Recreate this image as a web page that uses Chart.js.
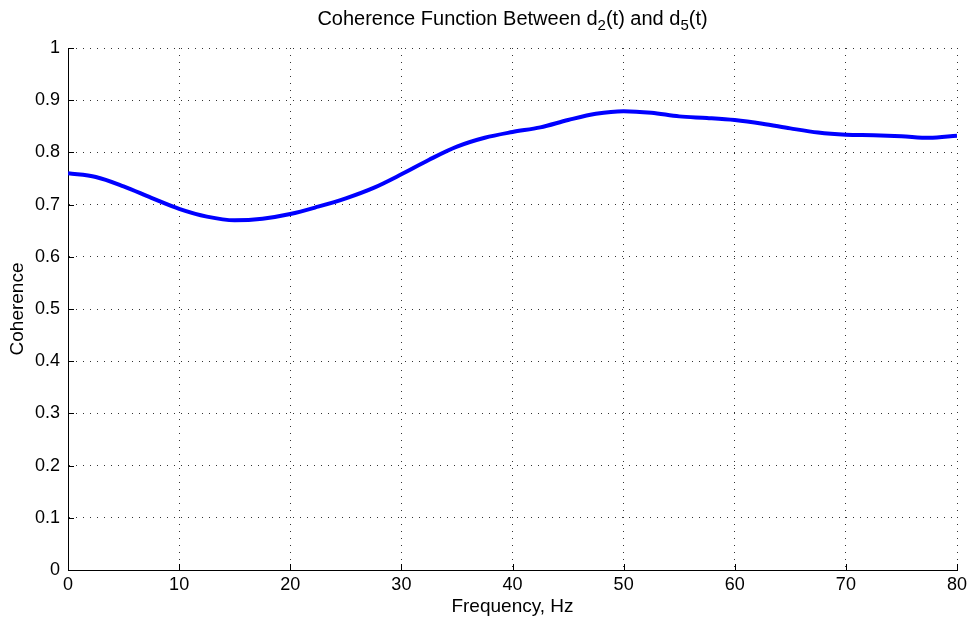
<!DOCTYPE html>
<html>
<head>
<meta charset="utf-8">
<script src="https://cdn.jsdelivr.net/npm/chart.js@4"></script>
<style>
  html, body { margin: 0; padding: 0; background: #fff; }
  #wrap { width: 972px; height: 626px; position: relative; }
</style>
</head>
<body>
<div id="wrap"><canvas id="cohChart"></canvas></div>
<script>
// Coherence, every 2.5 Hz
const freqHz = [0, 2.5, 5, 7.5, 10, 12.5, 15, 17.5, 20, 22.5, 25, 27.5, 30, 32.5, 35, 37.5,
  40, 42.5, 45, 47.5, 50, 52.5, 55, 57.5, 60, 62.5, 65, 67.5, 70, 72.5, 75, 77.5, 80];
const coherence = [0.760, 0.753, 0.735, 0.713, 0.692, 0.677, 0.670, 0.673, 0.682, 0.696, 0.712,
  0.732, 0.758, 0.786, 0.811, 0.828, 0.839, 0.848, 0.862, 0.874, 0.879, 0.876, 0.869, 0.866,
  0.862, 0.855, 0.846, 0.838, 0.834, 0.833, 0.831, 0.828, 0.832];
const xTicks = [0, 10, 20, 30, 40, 50, 60, 70, 80];
const yTicks = [0, 0.1, 0.2, 0.3, 0.4, 0.5, 0.6, 0.7, 0.8, 0.9, 1];

const FONT = 'Liberation Sans, Arial, Helvetica, sans-serif';

// title with subscripts, plus inward tick marks like matlab
const matlabLook = {
  id: 'matlabLook',
  afterDraw(chart) {
    const ctx = chart.ctx;
    const area = chart.chartArea;
    const xs = chart.scales.x, ys = chart.scales.y;

    ctx.save();
    ctx.strokeStyle = '#000';
    ctx.lineWidth = 1;
    ctx.beginPath();
    xTicks.forEach(t => {
      const px = Math.round(xs.getPixelForValue(t)) + 0.5;
      ctx.moveTo(px, area.bottom);
      ctx.lineTo(px, area.bottom - 6);
    });
    yTicks.forEach(t => {
      const py = Math.round(ys.getPixelForValue(t)) + 0.5;
      ctx.moveTo(area.left, py);
      ctx.lineTo(area.left + 6, py);
    });
    ctx.stroke();

    // title
    const parts = [
      ['Coherence Function Between d', false],
      ['2', true],
      ['(t) and d', false],
      ['5', true],
      ['(t)', false]
    ];
    const big = '20px ' + FONT, small = '15px ' + FONT;
    let total = 0;
    parts.forEach(p => {
      ctx.font = p[1] ? small : big;
      total += ctx.measureText(p[0]).width;
    });
    let x = (area.left + area.right) / 2 - total / 2;
    const baseY = 25;
    ctx.fillStyle = '#000';
    ctx.textBaseline = 'alphabetic';
    ctx.textAlign = 'left';
    parts.forEach(p => {
      ctx.font = p[1] ? small : big;
      ctx.fillText(p[0], x, p[1] ? baseY + 5 : baseY);
      x += ctx.measureText(p[0]).width;
    });
    ctx.restore();
  }
};

new Chart(document.getElementById('cohChart'), {
  type: 'line',
  data: {
    datasets: [{
      label: 'Coherence',
      data: freqHz.map((f, i) => ({ x: f, y: coherence[i] })),
      borderColor: '#0000ff',
      borderWidth: 4,
      pointRadius: 0,
      cubicInterpolationMode: 'monotone',
      fill: false
    }]
  },
  options: {
    responsive: true,
    maintainAspectRatio: false,
    animation: false,
    layout: { padding: { top: 48, right: 15, left: 0, bottom: 0 } },
    plugins: {
      legend: { display: false },
      tooltip: { enabled: false }
    },
    scales: {
      x: {
        type: 'linear',
        min: 0,
        max: 80,
        afterFit(scale) { scale.height = 56; },
        afterBuildTicks(scale) { scale.ticks = xTicks.map(v => ({ value: v })); },
        grid: { color: '#333', drawTicks: false, lineWidth: 1 },
        border: { display: true, color: '#000', width: 1, dash: [1, 6] },
        ticks: { color: '#000', font: { family: FONT, size: 18 }, padding: 4, maxRotation: 0 },
        title: { display: true, text: 'Frequency, Hz', color: '#000', font: { family: FONT, size: 19 }, padding: { top: 0, bottom: 8 } }
      },
      y: {
        type: 'linear',
        min: 0,
        max: 1,
        afterFit(scale) { scale.width = 68; },
        afterBuildTicks(scale) { scale.ticks = yTicks.map(v => ({ value: v })); },
        grid: { color: '#333', drawTicks: false, lineWidth: 1 },
        border: { display: true, color: '#000', width: 1, dash: [1, 6] },
        ticks: {
          color: '#000',
          font: { family: FONT, size: 18 },
          padding: 8,
          callback: v => String(Math.round(v * 10) / 10)
        },
        title: { display: true, text: 'Coherence', color: '#000', font: { family: FONT, size: 19 }, padding: { top: 6, bottom: 0 } }
      }
    }
  },
  plugins: [matlabLook]
});
</script>
</body>
</html>
